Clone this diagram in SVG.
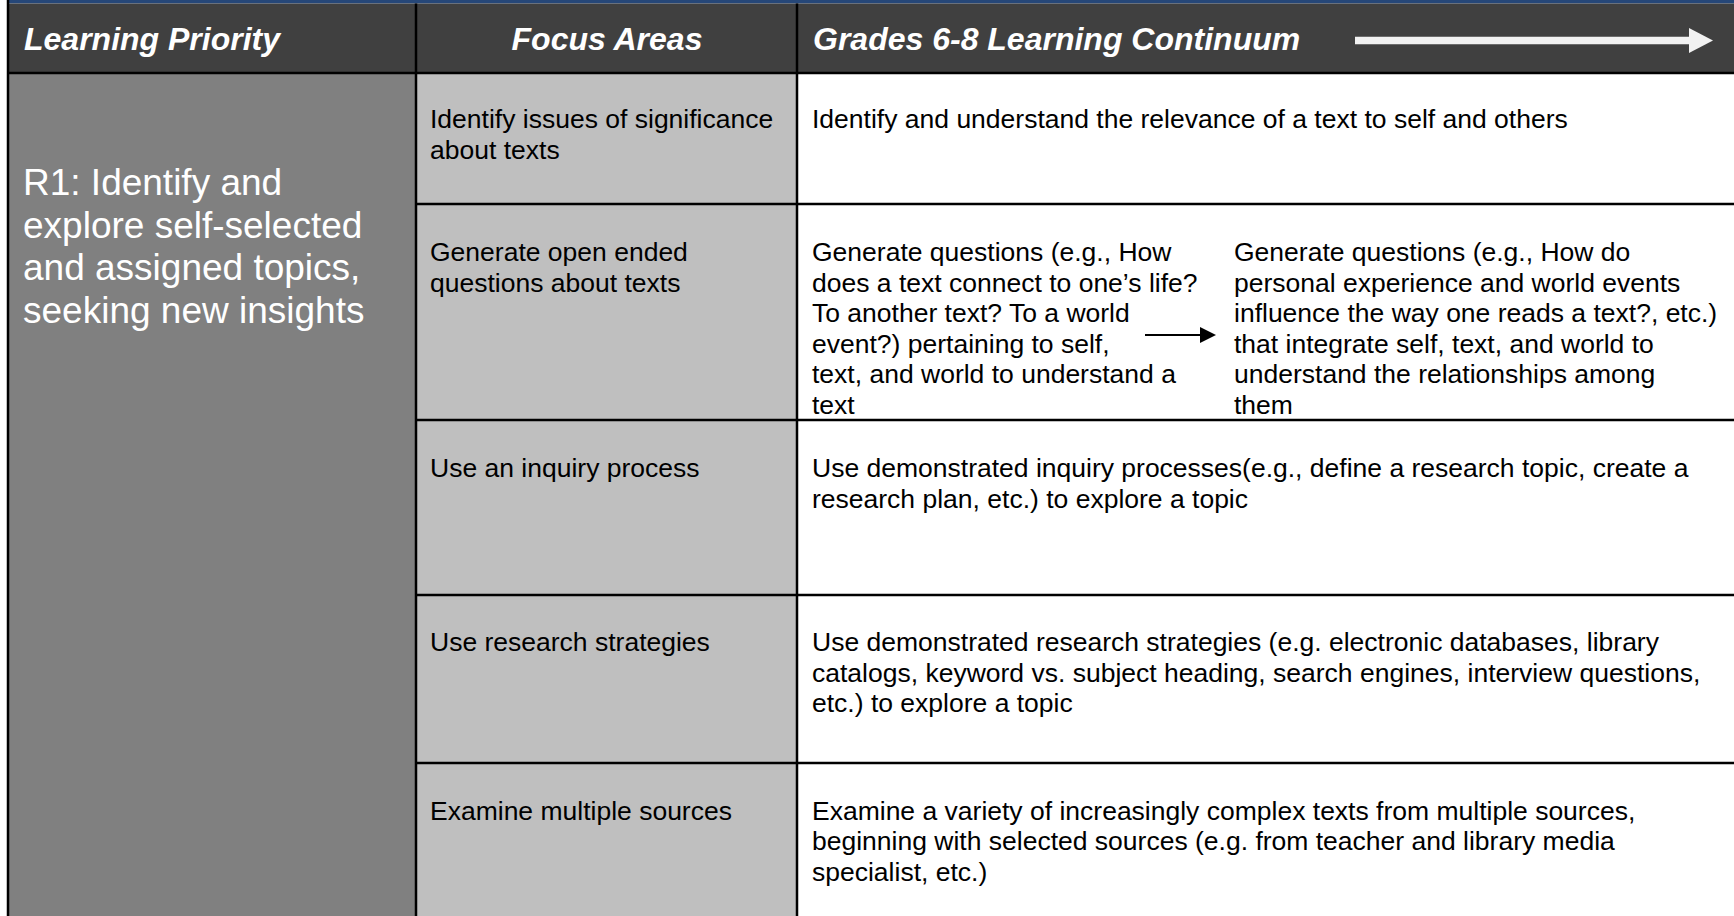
<svg xmlns="http://www.w3.org/2000/svg" width="1734" height="916" viewBox="0 0 1734 916">
<style>
.hd{font-family:"Liberation Sans",Arial,sans-serif;font-size:32px;font-weight:bold;font-style:italic;fill:#FFFFFF}
.tx{font-family:"Liberation Sans",Arial,sans-serif;font-size:26.5px;fill:#000000}
.lp{font-family:"Liberation Sans",Arial,sans-serif;font-size:37px;fill:#FFFFFF}
.ln{stroke:#000000;stroke-width:2.5;fill:none}
</style>
<defs>
<marker id="ah" markerWidth="8" markerHeight="8" refX="7" refY="4" orient="auto" markerUnits="strokeWidth">
<path d="M0,0 L8,4 L0,8 Z" fill="#000000"/>
</marker>
</defs>
<rect x="0" y="0" width="1734" height="916" fill="#FFFFFF"/>
<g id="header">
<rect x="8" y="0" width="1726" height="3.5" fill="#264778"/>
<rect x="8" y="3.5" width="1726" height="69.5" fill="#404040"/>
<text class="hd" x="24" y="50">Learning Priority</text>
<text class="hd" x="607" y="50" text-anchor="middle">Focus Areas</text>
<text class="hd" x="813" y="50">Grades 6-8 Learning Continuum</text>
<path d="M1355,40.5 H1690" stroke="#F2F2F2" stroke-width="7.5"/>
<path d="M1689,28 L1713,40.5 L1689,53 Z" fill="#F2F2F2"/>
</g>
<g id="priority">
<rect x="8" y="73" width="408" height="843" fill="#808080"/>
<text class="lp" x="23" y="195">R1: Identify and</text>
<text class="lp" x="23" y="237.5">explore self-selected</text>
<text class="lp" x="23" y="280">and assigned topics,</text>
<text class="lp" x="23" y="322.5">seeking new insights</text>
</g>
<rect x="416" y="73" width="381" height="843" fill="#BFBFBF"/>
<g id="row1">
<text class="tx" x="430" y="128">Identify issues of significance</text>
<text class="tx" x="430" y="158.5">about texts</text>
<text class="tx" x="812" y="128">Identify and understand the relevance of a text to self and others</text>
</g>
<g id="row2">
<text class="tx" x="430" y="261">Generate open ended</text>
<text class="tx" x="430" y="291.5">questions about texts</text>
<text class="tx" x="812" y="261">Generate questions (e.g., How</text>
<text class="tx" x="812" y="291.5">does a text connect to one’s life?</text>
<text class="tx" x="812" y="322">To another text? To a world</text>
<text class="tx" x="812" y="352.5">event?) pertaining to self,</text>
<text class="tx" x="812" y="383">text, and world to understand a</text>
<text class="tx" x="812" y="413.5">text</text>
<text class="tx" x="1234" y="261">Generate questions (e.g., How do</text>
<text class="tx" x="1234" y="291.5">personal experience and world events</text>
<text class="tx" x="1234" y="322">influence the way one reads a text?, etc.)</text>
<text class="tx" x="1234" y="352.5">that integrate self, text, and world to</text>
<text class="tx" x="1234" y="383">understand the relationships among</text>
<text class="tx" x="1234" y="413.5">them</text>
</g>
<g id="row3">
<text class="tx" x="430" y="477">Use an inquiry process</text>
<text class="tx" x="812" y="477">Use demonstrated inquiry processes(e.g., define a research topic, create a</text>
<text class="tx" x="812" y="507.5">research plan, etc.) to explore a topic</text>
</g>
<g id="row4">
<text class="tx" x="430" y="651">Use research strategies</text>
<text class="tx" x="812" y="651">Use demonstrated research strategies (e.g. electronic databases, library</text>
<text class="tx" x="812" y="681.5">catalogs, keyword vs. subject heading, search engines, interview questions,</text>
<text class="tx" x="812" y="712">etc.) to explore a topic</text>
</g>
<g id="row5">
<text class="tx" x="430" y="819.5">Examine multiple sources</text>
<text class="tx" x="812" y="819.5">Examine a variety of increasingly complex texts from multiple sources,</text>
<text class="tx" x="812" y="850">beginning with selected sources (e.g. from teacher and library media</text>
<text class="tx" x="812" y="880.5">specialist, etc.)</text>
</g>
<g id="connectors">
<path d="M1145,335 H1214" stroke="#000000" stroke-width="2" marker-end="url(#ah)"/>
</g>
<g id="grid">
<path class="ln" d="M8,0 V916"/>
<path class="ln" d="M8,73 H1734"/>
<path class="ln" d="M416,3.5 V916"/>
<path class="ln" d="M797,3.5 V916"/>
<path class="ln" d="M416,204 H1734"/>
<path class="ln" d="M416,420 H1734"/>
<path class="ln" d="M416,595 H1734"/>
<path class="ln" d="M416,763 H1734"/>
</g>
</svg>
